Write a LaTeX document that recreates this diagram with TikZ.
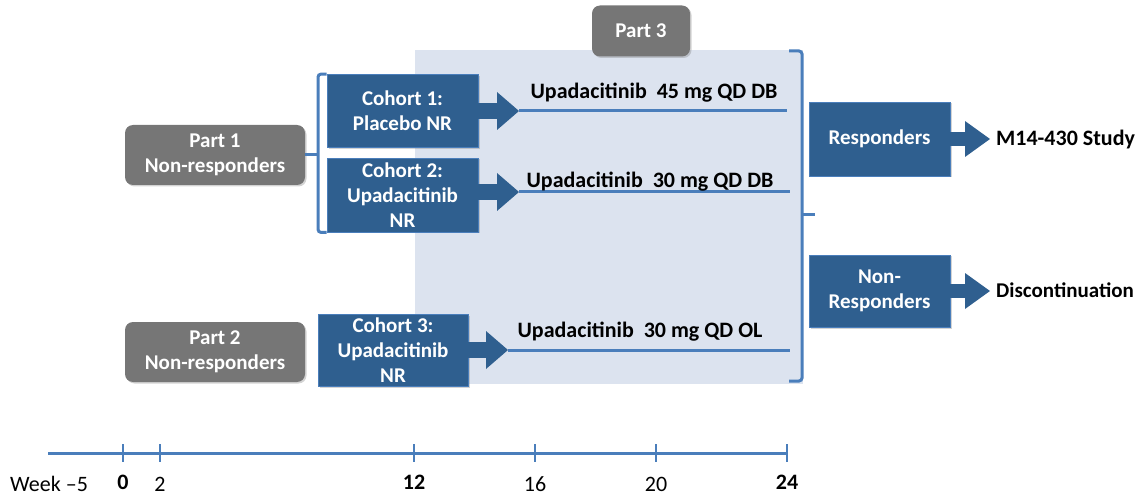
\documentclass[tikz,border=0pt]{standalone}
\usepackage{fontspec}
\setmainfont{Carlito}
\usetikzlibrary{arrows.meta, positioning, shadows}
\definecolor{cohortblue}{HTML}{2F5F8F}
\definecolor{edgeblue}{HTML}{4A7EBB}
\definecolor{partgray}{HTML}{767676}
\definecolor{partbg}{HTML}{DCE3EF}

\begin{document}
\begin{tikzpicture}[
    x=1pt, y=-1pt,
    font=\fontsize{21}{25}\selectfont\bfseries,
    cohort_node/.style={rectangle, fill=cohortblue, draw=edgeblue, line width=0.8pt, text=white, align=center, inner sep=0pt, minimum width=151pt, minimum height=73pt, drop shadow={opacity=0.35, shadow xshift=1.5pt, shadow yshift=-1.5pt}},
    part_node/.style={rectangle, rounded corners=8pt, fill=partgray, text=white, align=center, inner sep=0pt, minimum width=180pt, minimum height=60pt, drop shadow={opacity=0.35, shadow xshift=1.5pt, shadow yshift=-1.5pt}},
    label_node/.style={inner sep=0pt, text=black},
    block_arrow/.style={line width=16pt, draw=cohortblue, -{Triangle[length=22pt, width=38pt, line width=0pt]}},
    arm_line/.style={line width=3pt, draw=edgeblue},
    brace_line/.style={line width=3pt, draw=edgeblue, rounded corners=3pt}
]
\useasboundingbox (0,0) rectangle (1138,497);

% Part 3 area
\node[fill=partbg, inner sep=0pt, minimum width=388pt, minimum height=334pt] (p3area) at (609,217) {};
\node[part_node, minimum width=98pt, minimum height=51pt] (part3) at (641,31) {Part 3};

% Parts
\node[part_node] (part1) at (215,155) {Part 1\\Non-responders};
\node[part_node] (part2) at (215,352) {Part 2\\Non-responders};

% Cohorts
\node[cohort_node] (coh1) at (402.5,111) {Cohort 1:\\Placebo NR};
\node[cohort_node, minimum height=74pt] (coh2) at (402.5,195) {Cohort 2:\\Upadacitinib\\NR};
\node[cohort_node, minimum width=150pt, minimum height=72pt] (coh3) at (393,350) {Cohort 3:\\Upadacitinib\\NR};

% Left brace
\coordinate (lbrace) at (318,155);
\draw[brace_line] (coh1.north west) -| (lbrace) |- (coh2.south west);
\draw[arm_line] (part1.east) -- (lbrace);

% Treatment arms
\coordinate (tip1) at (519,111);
\coordinate (tip2) at (519,192);
\coordinate (tip3) at (508,350);
\coordinate (end1) at (787,111);
\coordinate (end2) at (790,192);
\coordinate (end3) at (790,350);
\draw[arm_line] (tip1) -- (end1);
\draw[arm_line] (tip2) -- (end2);
\draw[arm_line] (tip3) -- (end3);
\draw[block_arrow] (coh1.east) -- (tip1);
\draw[block_arrow] (coh2.east |- tip2) -- (tip2);
\draw[block_arrow] (coh3.east) -- (tip3);

\node[label_node, font=\fontsize{22}{26}\selectfont\bfseries] (arm1) at (654,93) {Upadacitinib~ 45 mg QD DB};
\node[label_node, font=\fontsize{22}{26}\selectfont\bfseries] (arm2) at (650,182) {Upadacitinib~ 30 mg QD DB};
\node[label_node, font=\fontsize{22}{26}\selectfont\bfseries] (arm3) at (640,332) {Upadacitinib~ 30 mg QD OL};

% Right brace
\coordinate (rtop) at (789,51);
\coordinate (rbot) at (789,381);
\coordinate (rbrace) at (802,215);
\coordinate (rbmid) at (815,215);
\draw[brace_line] (rtop) -| (rbrace) |- (rbot);
\draw[arm_line] (rbrace) -- (rbmid);

% Outcomes
\node[cohort_node, minimum width=141pt, minimum height=74pt] (resp) at (879.5,139) {Responders};
\node[cohort_node, minimum width=141pt, minimum height=72pt] (nonresp) at (879.5,291) {Non-\\Responders};
\coordinate (rtip1) at (990,139);
\coordinate (rtip2) at (990,291);
\draw[block_arrow, line width=14pt, -{Triangle[length=25pt, width=36pt, line width=0pt]}] (resp.east) -- (rtip1);
\draw[block_arrow, line width=14pt, -{Triangle[length=25pt, width=36pt, line width=0pt]}] (nonresp.east) -- (rtip2);
\node[label_node, anchor=west, font=\fontsize{22}{26}\selectfont\bfseries] (study) at (996,140) {M14-430 Study};
\node[label_node, anchor=west] (disc) at (996,290) {Discontinuation};

% Timeline
\coordinate (axstart) at (48,453);
\coordinate (axend) at (787,453);
\draw[arm_line] (axstart) -- (axend);
\foreach \x in {123,160,414,535,656,787}
    \draw[edgeblue, line width=2.5pt] (\x,444) -- (\x,462);
\node[label_node, anchor=west, font=\fontsize{22}{26}\selectfont] (week) at (10,484) {Week --5};
\foreach \x/\w in {123/0,414/12,787/24}
    \node[label_node, font=\fontsize{22}{26}\selectfont\bfseries] (wk\w) at (\x,482) {\w};
\foreach \x/\w in {160/2,535/16,656/20}
    \node[label_node, font=\fontsize{22}{26}\selectfont] (wk\w) at (\x,484) {\w};

\end{tikzpicture}
\end{document}
